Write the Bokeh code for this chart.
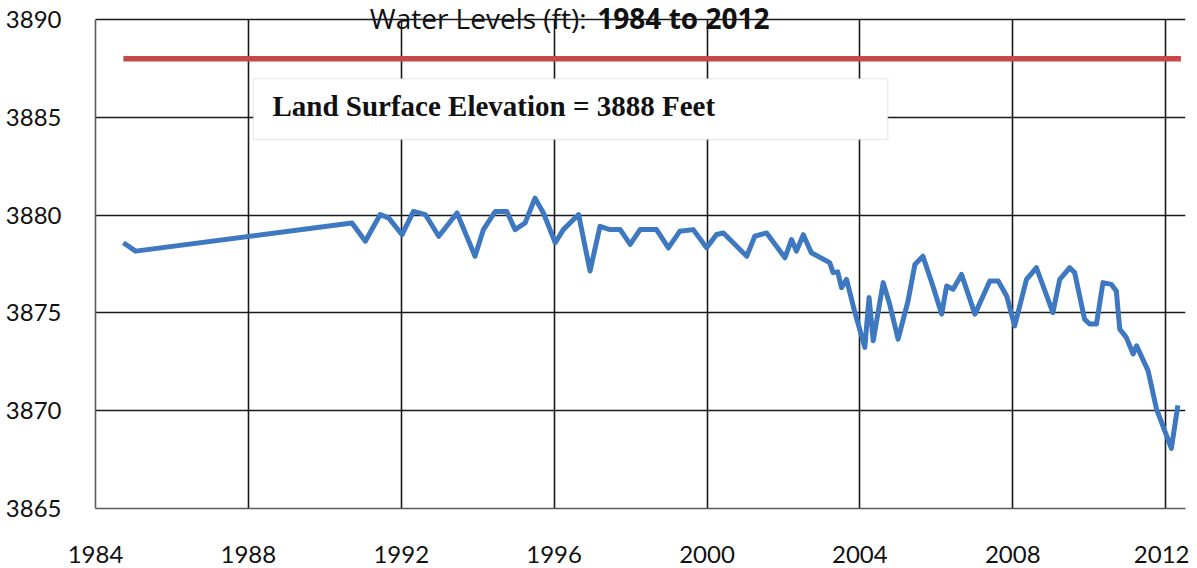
from bokeh.plotting import figure
from bokeh.models import Range1d, FixedTicker, Label, BoxAnnotation
from bokeh.embed import file_html
from bokeh.resources import INLINE

# ---- data ----
years = [1984.73, 1985.05, 1990.71, 1991.06, 1991.45, 1991.67, 1992.02, 1992.32,
         1992.63, 1992.98, 1993.46, 1993.93, 1994.15, 1994.46, 1994.76, 1994.98,
         1995.24, 1995.50, 1995.72, 1996.03, 1996.24, 1996.64, 1996.94, 1997.20,
         1997.46, 1997.73, 1997.99, 1998.25, 1998.68, 1998.99, 1999.29, 1999.64,
         1999.99, 2000.25, 2000.43, 2001.04, 2001.25, 2001.56, 2002.04, 2002.21,
         2002.34, 2002.52, 2002.73, 2003.21, 2003.30, 2003.42, 2003.52, 2003.65,
         2003.87, 2004.13, 2004.24, 2004.35, 2004.61, 2004.78, 2005.00, 2005.26,
         2005.44, 2005.65, 2005.91, 2006.14, 2006.27, 2006.44, 2006.66, 2007.01,
         2007.40, 2007.62, 2007.84, 2008.05, 2008.36, 2008.62, 2009.05, 2009.23,
         2009.49, 2009.62, 2009.88, 2010.01, 2010.19, 2010.36, 2010.58, 2010.71,
         2010.80, 2010.97, 2011.15, 2011.24, 2011.54, 2011.76, 2012.15, 2012.32]
levels = [3878.59, 3878.16, 3879.60, 3878.67, 3880.03, 3879.86, 3879.00, 3880.19,
          3880.03, 3878.92, 3880.11, 3877.90, 3879.26, 3880.19, 3880.19, 3879.26,
          3879.60, 3880.87, 3880.11, 3878.59, 3879.26, 3880.03, 3877.14, 3879.43,
          3879.26, 3879.26, 3878.50, 3879.26, 3879.26, 3878.33, 3879.18, 3879.26,
          3878.33, 3879.01, 3879.09, 3877.90, 3878.92, 3879.09, 3877.82, 3878.75,
          3878.16, 3879.00, 3878.08, 3877.57, 3877.06, 3877.10, 3876.29, 3876.72,
          3875.02, 3873.24, 3875.79, 3873.58, 3876.55, 3875.44, 3873.66, 3875.61,
          3877.48, 3877.90, 3876.38, 3874.94, 3876.38, 3876.21, 3876.97, 3874.94,
          3876.63, 3876.63, 3875.87, 3874.34, 3876.72, 3877.31, 3875.02, 3876.72,
          3877.31, 3877.06, 3874.68, 3874.43, 3874.43, 3876.55, 3876.46, 3876.12,
          3874.17, 3873.75, 3872.90, 3873.32, 3872.05, 3870.10, 3868.07, 3870.27]

surface_x = [1984.73, 2012.40]
surface_y = [3888, 3888]

x_ticks = [1984, 1988, 1992, 1996, 2000, 2004, 2008, 2012]
y_ticks = [3865, 3870, 3875, 3880, 3885, 3890]
y_min, y_max = 3865, 3890

title_normal = "Water Levels (ft):"
title_bold = "1984 to 2012"
box_text = "Land Surface Elevation = 3888 Feet"

# a little head-room above 3890 so the title that straddles the top line is not clipped
p = figure(width=1189, height=568,
           x_range=Range1d(1984, 2012.52), y_range=Range1d(y_min, 3890.72),
           output_backend="svg", toolbar_location=None,
           min_border_left=95, min_border_right=4,
           min_border_top=5, min_border_bottom=60)
p.outline_line_color = None
p.background_fill_color = "white"
p.border_fill_color = "white"

for ax, ticks in ((p.xaxis, x_ticks), (p.yaxis, y_ticks)):
    ax.ticker = FixedTicker(ticks=ticks)
    ax.major_label_text_font = "Lato"
    ax.major_label_text_font_size = "24px"
    ax.major_label_text_color = "#111111"
    ax.major_tick_line_color = None
    ax.minor_tick_line_color = None
    ax.axis_line_color = "#5a5a5a"
    ax.axis_line_width = 1.6
p.yaxis.bounds = (y_min, y_max)
p.yaxis.major_label_standoff = 28
p.xaxis.major_label_standoff = 31

grid_color = "#1a1a1a"
p.ygrid.ticker = FixedTicker(ticks=y_ticks)
p.ygrid.grid_line_color = grid_color
p.ygrid.grid_line_width = 1.6

xg = p.xgrid[0]
if "cross_bounds" in xg.properties():
    xg.ticker = FixedTicker(ticks=x_ticks)
    xg.cross_bounds = (y_min, y_max)
    xg.grid_line_color = grid_color
    xg.grid_line_width = 1.6
else:
    xg.grid_line_color = None
    p.segment(x0=x_ticks, y0=[y_min] * len(x_ticks), x1=x_ticks, y1=[y_max] * len(x_ticks),
              line_color=grid_color, line_width=1.6)

p.line(surface_x, surface_y, line_color="#c8484a", line_width=5.5)
p.line(years, levels, line_color="#3d78c0", line_width=5, line_join="round")

box = BoxAnnotation(left=1988.13, right=2004.73, top=3886.97, bottom=3883.87,
                    fill_color="white", fill_alpha=1.0,
                    line_color="#c4c4c4", line_width=1.5)
p.add_layout(box)

p.add_layout(Label(x=1988.63, y=3885.60, text=box_text,
                   text_font="Liberation Serif", text_font_style="bold",
                   text_font_size="29px", text_color="#111111",
                   text_baseline="alphabetic", text_align="left"))

p.add_layout(Label(x=1996.85, y=3890.10, text=title_normal,
                   text_font="Open Sans", text_font_size="28px",
                   text_color="#111111",
                   text_baseline="alphabetic", text_align="right"))
p.add_layout(Label(x=1997.13, y=3890.10, text=title_bold,
                   text_font="Open Sans", text_font_style="bold",
                   text_font_size="28px", text_color="#111111",
                   text_baseline="alphabetic", text_align="left"))

open("out.html", "w").write(file_html(p, INLINE))
